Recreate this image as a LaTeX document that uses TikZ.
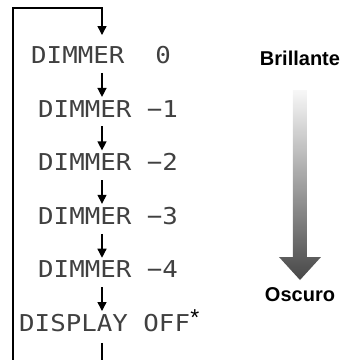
\documentclass[tikz,border=0pt]{standalone}
\usepackage{fontspec}
\setmainfont{Liberation Sans}
\newfontfamily\lcd{DejaVu Sans Mono}
\usetikzlibrary{arrows.meta}
\begin{document}
\begin{tikzpicture}[x=1pt,y=-1pt,
  lcdtext/.style={inner sep=0pt, anchor=west, text=black!75, font=\lcd\fontsize{25.8}{26}\selectfont},
  flow/.style={line width=1.3pt, -{Triangle[length=9pt,width=9pt]}},
  plainline/.style={line width=1.3pt},
  sidetext/.style={font=\bfseries\fontsize{20}{22}\selectfont, inner sep=0pt},
  starmark/.style={font=\fontsize{23}{23}\selectfont, inner sep=0pt, anchor=north west}]
\useasboundingbox (0,0) rectangle (345,360);
% LCD rows
\node[lcdtext] (r0) at (31,55)    {\scalebox{1}[0.9]{DIMMER\ \ 0}};
\node[lcdtext] (r1) at (38,108.6) {\scalebox{1}[0.9]{DIMMER\ −1}};
\node[lcdtext] (r2) at (38,162.2) {\scalebox{1}[0.9]{DIMMER\ −2}};
\node[lcdtext] (r3) at (38,215.8) {\scalebox{1}[0.9]{DIMMER\ −3}};
\node[lcdtext] (r4) at (38,269.4) {\scalebox{1}[0.9]{DIMMER\ −4}};
\node[lcdtext] (r5) at (19,323)   {\scalebox{1}[0.9]{DISPLAY\ OFF}};
\node[starmark] (st) at ([xshift=0pt,yshift=5pt]r5.north east) {*};
% loop coordinates
\coordinate (ax) at (102,0);
\coordinate (lt) at (13,8);
\coordinate (lb) at (13,362);
\coordinate (rt) at (102,8);
\coordinate (bb) at (102,362);
% connectors
\draw[flow, shorten >=11pt] (lb) -- (lt) -- (rt) -- (r0.north -| ax);
\draw[flow, shorten <=9pt, shorten >=3pt] (r0.south -| ax) -- (r1.north -| ax);
\draw[flow, shorten <=9pt, shorten >=3pt] (r1.south -| ax) -- (r2.north -| ax);
\draw[flow, shorten <=9pt, shorten >=3pt] (r2.south -| ax) -- (r3.north -| ax);
\draw[flow, shorten <=9pt, shorten >=3pt] (r3.south -| ax) -- (r4.north -| ax);
\draw[flow, shorten <=9pt, shorten >=3pt] (r4.south -| ax) -- (r5.north -| ax);
\draw[plainline, shorten <=11pt] (r5.south -| ax) -- (bb);
% brightness scale
\node[sidetext] (br) at (300,58) {Brillante};
\node[sidetext] (os) at (300,295) {Oscuro};
\shade[top color=black!3, bottom color=black!72]
  (293,90) -- (307,90) -- (307,257) -- (321,257) -- (300,280) -- (279,257) -- (293,257) -- cycle;
\end{tikzpicture}
\end{document}
